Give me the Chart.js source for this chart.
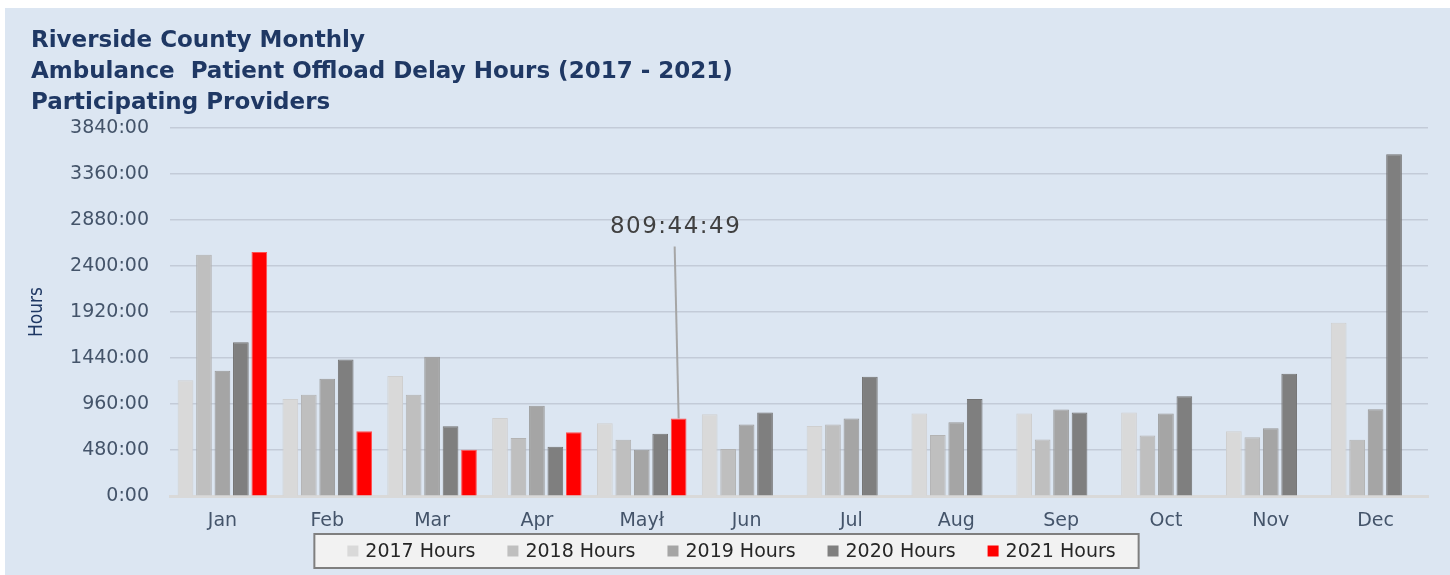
<!DOCTYPE html>
<html>
<head>
<meta charset="utf-8">
<script src="https://cdn.jsdelivr.net/npm/chart.js@4"></script>
<style>
body { margin: 0; background: #fff; width: 1450px; height: 575px; overflow: hidden; position: relative; }
#clip { position: absolute; left: 2px; top: -21px; font: 22px 'Liberation Sans', sans-serif; color: #000; }
#wrap { position: absolute; left: 5px; top: 8px; width: 1445px; height: 567px; background: #dce6f2; }
</style>
</head>
<body>
<div id="clip">time.</div>
<div id="wrap"><canvas id="myChart" width="1445" height="567"></canvas></div>
<script>
// Données (heures)
const months = ['Jan', 'Feb', 'Mar', 'Apr', 'Maył', 'Jun', 'Jul', 'Aug', 'Sep', 'Oct', 'Nov', 'Dec'];
const hours2017 = [1208, 1012, 1252, 816, 760, 855, 732, 862, 862, 872, 677, 1807];
const hours2018 = [2518, 1057, 1057, 607, 589, 492, 747, 638, 590, 632, 614, 589];
const hours2019 = [1308, 1224, 1454, 942, 485, 747, 810, 771, 904, 862, 708, 907];
const hours2020 = [1604, 1426, 729, 516, 652, 872, 1245, 1012, 872, 1043, 1276, 3565];
const hours2021 = [2546, 677, 484, 666, 809.7469, null, null, null, null, null, null, null];
const yTicks = [0, 480, 960, 1440, 1920, 2400, 2880, 3360, 3840];
const annotIndex = 4;  // étiquette sur mai 2021

// heures décimales -> H:MM:SS
function toHMS(v) {
    const s = Math.round(v * 3600);
    const h = Math.floor(s / 3600);
    const m = Math.floor((s % 3600) / 60);
    const sec = s % 60;
    return h + ':' + String(m).padStart(2, '0') + ':' + String(sec).padStart(2, '0');
}

// légende dans un cadre gris, construite à partir des datasets
const boxLegend = {
    id: 'boxLegend',
    afterDraw(chart) {
        const ctx = chart.ctx;
        const items = Chart.defaults.plugins.legend.labels.generateLabels(chart);
        const box = 11, gapText = 7, gapItem = 32;
        ctx.save();
        ctx.font = '19px "DejaVu Sans"';
        const widths = items.map(it => box + gapText + ctx.measureText(it.text).width);
        const total = widths.reduce((a, b) => a + b, 0) + gapItem * (items.length - 1);
        const cy = chart.height - 24;
        let x = chart.width / 2 + 4 - total / 2;
        const x0 = x - 33, x1 = x + total + 23;
        ctx.fillStyle = '#f2f2f2';
        ctx.fillRect(x0, cy - 17, x1 - x0, 34);
        ctx.strokeStyle = '#7f7f7f';
        ctx.lineWidth = 2;
        ctx.strokeRect(x0, cy - 17, x1 - x0, 34);
        ctx.textBaseline = 'middle';
        items.forEach((it, i) => {
            ctx.fillStyle = it.fillStyle;
            ctx.fillRect(x, cy - box / 2, box, box);
            ctx.fillStyle = '#262626';
            ctx.fillText(it.text, x + box + gapText, cy + 1);
            x += widths[i] + gapItem;
        });
        ctx.restore();
    }
};

// étiquette avec trait pour la barre de mai 2021
const callout = {
    id: 'callout',
    afterDatasetsDraw(chart) {
        const bar = chart.getDatasetMeta(4).data[annotIndex];
        if (!bar) return;
        const ctx = chart.ctx;
        ctx.save();
        ctx.strokeStyle = '#a6a6a6';
        ctx.lineWidth = 2;
        ctx.beginPath();
        ctx.moveTo(bar.x - 4, bar.y - 172);
        ctx.lineTo(bar.x, bar.y);
        ctx.stroke();
        ctx.fillStyle = '#404040';
        ctx.font = '23px "DejaVu Sans"';
        ctx.letterSpacing = '1.5px';
        ctx.textAlign = 'center';
        ctx.textBaseline = 'middle';
        ctx.fillText(toHMS(hours2021[annotIndex]), bar.x - 3, bar.y - 191);
        ctx.restore();
    }
};

function makeSet(label, data, color, border) {
    return {
        label: label,
        data: data,
        backgroundColor: color,
        borderColor: border,
        borderWidth: 1,
        categoryPercentage: 0.88,
        barPercentage: 0.85
    };
}

const ctx = document.getElementById('myChart').getContext('2d');
new Chart(ctx, {
    type: 'bar',
    data: {
        labels: months,
        datasets: [
            makeSet('2017 Hours', hours2017, '#d9d9d9', '#cfcfcf'),
            makeSet('2018 Hours', hours2018, '#bfbfbf', '#b3b3b3'),
            makeSet('2019 Hours', hours2019, '#a5a5a5', '#999999'),
            makeSet('2020 Hours', hours2020, '#7f7f7f', '#737373'),
            makeSet('2021 Hours', hours2021, '#ff0000', '#ff5050')
        ]
    },
    options: {
        responsive: false,
        animation: false,
        layout: { padding: { left: 26, right: 22, top: 0, bottom: 38 } },
        scales: {
            x: {
                grid: { display: false },
                border: { color: '#d9d9d9', width: 3 },
                ticks: { color: '#44546a', font: { family: 'DejaVu Sans', size: 19 }, padding: 5 }
            },
            y: {
                min: 0,
                max: 3840,
                afterBuildTicks: s => { s.ticks = yTicks.map(v => ({ value: v })); },
                afterFit: s => { s.width = 139; },
                grid: {
                    color: c => c.tick.value === 0 ? 'rgba(0,0,0,0)' : '#c3cbd8',
                    lineWidth: 1.5,
                    drawTicks: false
                },
                border: { display: false },
                ticks: {
                    color: '#44546a',
                    font: { family: 'DejaVu Sans', size: 19 },
                    padding: 21,
                    callback: v => v + ':00'
                },
                title: {
                    display: true,
                    text: 'Hours',
                    color: '#1f3864',
                    font: { family: '"DejaVu Sans Condensed", "Liberation Sans", sans-serif', size: 19 },
                    padding: { top: -5, bottom: 0 }
                }
            }
        },
        plugins: {
            title: {
                display: true,
                align: 'start',
                text: ['Riverside County Monthly', 'Ambulance  Patient Offload Delay Hours (2017 - 2021)', 'Participating Providers'],
                color: '#1f3864',
                font: { family: 'DejaVu Sans', size: 23, weight: 'bold', lineHeight: 1.36 },
                padding: { top: 17, bottom: 9 }
            },
            legend: { display: false },
            tooltip: { enabled: false }
        }
    },
    plugins: [boxLegend, callout]
});
</script>
</body>
</html>
